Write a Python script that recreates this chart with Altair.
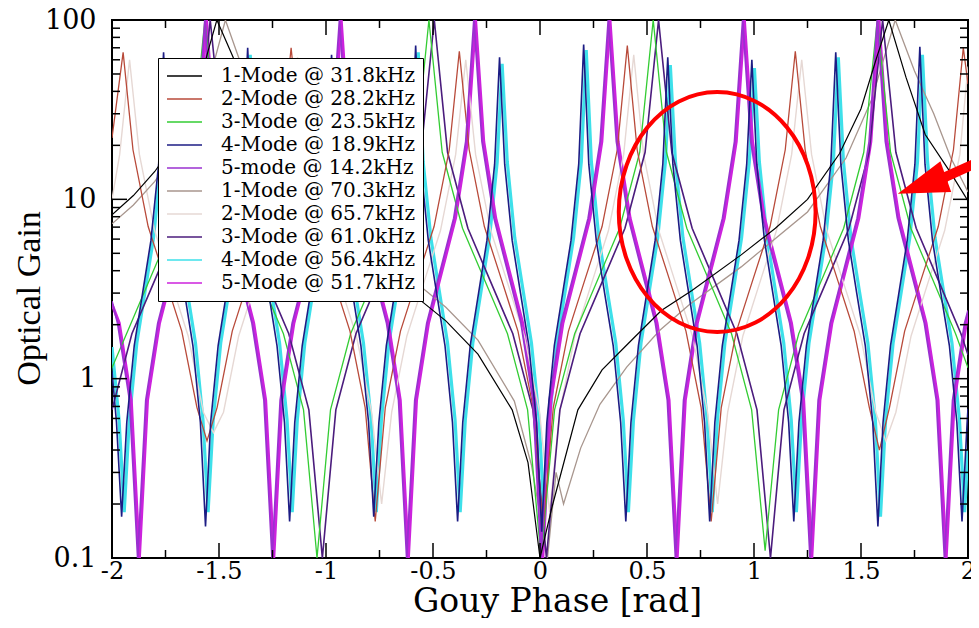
import altair as alt
import pandas as pd

# ---------------- legend labels / colours ----------------
labels = ["1-Mode @ 31.8kHz", "2-Mode @ 28.2kHz", "3-Mode @ 23.5kHz", "4-Mode @ 18.9kHz",
          "5-mode @ 14.2kHz", "1-Mode @ 70.3kHz", "2-Mode @ 65.7kHz", "3-Mode @ 61.0kHz",
          "4-Mode @ 56.4kHz", "5-Mode @ 51.7kHz"]
colors = ["#000000", "#b84a3a", "#33cc33", "#1c1c84", "#9a30d0",
          "#a8968e", "#e6d8d4", "#4b1c7d", "#3ee0ea", "#cc22dd"]

# ---------------- series: (Gouy phase, optical gain) ----------------
black = [(-2.0, 8.2), (-1.9, 10.5), (-1.8, 14.3), (-1.7, 21), (-1.6, 40), (-1.55, 68), (-1.51, 100),
         (-1.434, 62), (-1.35, 28), (-1.2, 13.5), (-1.0, 7.6), (-0.8, 4.7), (-0.6, 3.0), (-0.44, 2.1),
         (-0.29, 1.37), (-0.13, 0.67), (-0.056, 0.34), (0.0, 0.1), (0.055, 0.19), (0.177, 0.67),
         (0.29, 1.12), (0.41, 1.56), (0.567, 2.4), (0.71, 3.1), (0.94, 4.9), (1.1, 6.9), (1.25, 10),
         (1.4, 18), (1.5, 32), (1.57, 60), (1.63, 100), (1.71, 48), (1.8, 23), (1.92, 14), (2.0, 9.8)]

gray = [(-2.0, 7.3), (-1.9, 9.3), (-1.8, 12.6), (-1.7, 18.5), (-1.6, 32), (-1.52, 60), (-1.47, 100),
        (-1.40, 58), (-1.3, 28), (-1.15, 14), (-0.95, 7.8), (-0.75, 5.0), (-0.6, 3.6), (-0.44, 2.5),
        (-0.29, 1.64), (-0.12, 0.75), (-0.04, 0.33), (0.035, 0.1), (0.075, 0.3), (0.11, 0.2),
        (0.19, 0.41), (0.28, 0.72), (0.405, 1.16), (0.56, 1.86), (0.70, 2.6), (0.94, 4.2), (1.25, 8.5),
        (1.43, 17), (1.55, 36), (1.66, 100), (1.75, 52), (1.84, 30), (1.92, 17), (2.0, 11)]

red = [(-2.0, 22), (-1.948, 66), (-1.902, 18.9), (-1.831, 7.05), (-1.752, 3.6), (-1.674, 1.84), (-1.603, 0.69), (-1.556, 0.45),
       (-1.509, 0.69), (-1.438, 1.84), (-1.360, 3.6), (-1.281, 7.05), (-1.210, 18.9), (-1.163, 70),
       (-1.116, 18.9), (-1.045, 7.05), (-0.966, 3.6), (-0.888, 1.84), (-0.817, 0.69), (-0.770, 0.16),
       (-0.723, 0.69), (-0.652, 1.84), (-0.574, 3.6), (-0.495, 7.05), (-0.424, 18.9), (-0.377, 67),
       (-0.331, 18.9), (-0.260, 7.05), (-0.181, 3.6), (-0.103, 1.84), (-0.032, 0.69), (0.015, 0.15),
       (0.062, 0.69), (0.133, 1.84), (0.211, 3.6), (0.290, 7.05), (0.361, 18.9), (0.408, 72),
       (0.454, 18.9), (0.525, 7.05), (0.604, 3.6), (0.682, 1.84), (0.753, 0.69), (0.800, 0.16),
       (0.847, 0.69), (0.918, 1.84), (0.996, 3.6), (1.075, 7.05), (1.146, 18.9), (1.193, 67),
       (1.239, 18.9), (1.310, 7.05), (1.389, 3.6), (1.468, 1.84), (1.539, 0.69), (1.586, 0.4),
       (1.633, 0.69), (1.704, 1.84), (1.782, 3.6), (1.861, 7.05), (1.932, 18.9), (1.978, 70), (2.0, 44)]

pink = [(-2.0, 10), (-1.964, 17.8), (-1.918, 60), (-1.872, 17.8), (-1.801, 6.7), (-1.722, 3.4), (-1.644, 1.73), (-1.573, 0.65), (-1.526, 0.5),
        (-1.479, 0.65), (-1.408, 1.73), (-1.330, 3.4), (-1.251, 6.7), (-1.180, 17.8), (-1.133, 62),
        (-1.086, 17.8), (-1.015, 6.7), (-0.936, 3.4), (-0.858, 1.73), (-0.787, 0.65), (-0.740, 0.2),
        (-0.693, 0.65), (-0.622, 1.73), (-0.544, 3.4), (-0.465, 6.7), (-0.394, 17.8), (-0.347, 60),
        (-0.301, 17.8), (-0.230, 6.7), (-0.151, 3.4), (-0.073, 1.73), (-0.002, 0.65), (0.045, 0.18),
        (0.092, 0.65), (0.163, 1.73), (0.241, 3.4), (0.320, 6.7), (0.391, 17.8), (0.438, 64),
        (0.484, 17.8), (0.555, 6.7), (0.634, 3.4), (0.712, 1.73), (0.783, 0.65), (0.830, 0.2),
        (0.877, 0.65), (0.948, 1.73), (1.026, 3.4), (1.105, 6.7), (1.176, 17.8), (1.223, 60),
        (1.269, 17.8), (1.340, 6.7), (1.419, 3.4), (1.498, 1.73), (1.569, 0.65), (1.616, 0.45),
        (1.663, 0.65), (1.734, 1.73), (1.812, 3.4), (1.891, 6.7), (1.962, 17.8), (2.0, 55)]

green = [(-2.0, 1.15), (-1.932, 1.78), (-1.827, 3.5), (-1.722, 6.9), (-1.628, 18.3), (-1.566, 100),
         (-1.504, 18.3), (-1.409, 6.9), (-1.304, 3.5), (-1.199, 1.78), (-1.105, 0.67), (-1.042, 0.1),
         (-0.979, 0.67), (-0.885, 1.78), (-0.780, 3.5), (-0.675, 6.9), (-0.581, 18.3), (-0.519, 100),
         (-0.457, 18.3), (-0.362, 6.9), (-0.257, 3.5), (-0.152, 1.78), (-0.058, 0.67), (0.005, 0.1),
         (0.068, 0.67), (0.162, 1.78), (0.267, 3.5), (0.372, 6.9), (0.466, 18.3), (0.529, 100),
         (0.591, 18.3), (0.686, 6.9), (0.791, 3.5), (0.895, 1.78), (0.989, 0.67), (1.052, 0.11),
         (1.115, 0.67), (1.209, 1.78), (1.314, 3.5), (1.419, 6.9), (1.513, 18.3), (1.576, 100),
         (1.638, 18.3), (1.733, 6.9), (1.838, 3.5), (1.942, 1.78), (2.0, 1.15)]

indigo = [(-2.0, 0.67), (-1.907, 1.78), (-1.802, 3.5), (-1.697, 6.9), (-1.603, 18.3), (-1.541, 100),
          (-1.479, 18.3), (-1.384, 6.9), (-1.279, 3.5), (-1.174, 1.78), (-1.080, 0.67), (-1.017, 0.1),
          (-0.954, 0.67), (-0.860, 1.78), (-0.755, 3.5), (-0.650, 6.9), (-0.556, 18.3), (-0.494, 100),
          (-0.432, 18.3), (-0.337, 6.9), (-0.232, 3.5), (-0.127, 1.78), (-0.033, 0.67), (0.030, 0.1),
          (0.093, 0.67), (0.187, 1.78), (0.292, 3.5), (0.397, 6.9), (0.491, 18.3), (0.554, 100),
          (0.616, 18.3), (0.711, 6.9), (0.816, 3.5), (0.920, 1.78), (1.014, 0.67), (1.077, 0.1),
          (1.140, 0.67), (1.234, 1.78), (1.339, 3.5), (1.444, 6.9), (1.538, 18.3), (1.601, 100),
          (1.663, 18.3), (1.758, 6.9), (1.863, 3.5), (1.967, 1.78), (2.0, 1.36)]

blue = [(-2.0, 1.1), (-1.979, 0.57), (-1.955, 0.17),
        (-1.931, 0.57), (-1.896, 1.53), (-1.857, 3.0), (-1.818, 5.9), (-1.782, 15.7), (-1.759, 66),
        (-1.736, 15.7), (-1.700, 5.9), (-1.661, 3.0), (-1.622, 1.53), (-1.587, 0.57), (-1.563, 0.15),
        (-1.539, 0.57), (-1.504, 1.53), (-1.465, 3.0), (-1.426, 5.9), (-1.390, 15.7), (-1.366, 70),
        (-1.342, 15.7), (-1.307, 5.9), (-1.268, 3.0), (-1.229, 1.53), (-1.194, 0.57), (-1.170, 0.16),
        (-1.146, 0.57), (-1.111, 1.53), (-1.072, 3.0), (-1.033, 5.9), (-0.997, 15.7), (-0.974, 64),
        (-0.950, 15.7), (-0.915, 5.9), (-0.876, 3.0), (-0.837, 1.53), (-0.801, 0.57), (-0.777, 0.17),
        (-0.753, 0.57), (-0.718, 1.53), (-0.679, 3.0), (-0.640, 5.9), (-0.604, 15.7), (-0.581, 72),
        (-0.558, 15.7), (-0.522, 5.9), (-0.483, 3.0), (-0.444, 1.53), (-0.409, 0.57), (-0.385, 0.16),
        (-0.361, 0.57), (-0.326, 1.53), (-0.287, 3.0), (-0.248, 5.9), (-0.212, 15.7), (-0.189, 62),
        (-0.165, 15.7), (-0.130, 5.9), (-0.091, 3.0), (-0.052, 1.53), (-0.016, 0.57), (0.008, 0.14),
        (0.032, 0.57), (0.067, 1.53), (0.106, 3.0), (0.145, 5.9), (0.181, 15.7), (0.204, 73),
        (0.228, 15.7), (0.263, 5.9), (0.302, 3.0), (0.342, 1.53), (0.377, 0.57), (0.401, 0.16),
        (0.425, 0.57), (0.460, 1.53), (0.499, 3.0), (0.538, 5.9), (0.574, 15.7), (0.597, 62),
        (0.621, 15.7), (0.656, 5.9), (0.695, 3.0), (0.734, 1.53), (0.769, 0.57), (0.793, 0.16),
        (0.817, 0.57), (0.852, 1.53), (0.891, 3.0), (0.930, 5.9), (0.966, 15.7), (0.990, 60),
        (1.013, 15.7), (1.049, 5.9), (1.088, 3.0), (1.127, 1.53), (1.162, 0.57), (1.186, 0.16),
        (1.210, 0.57), (1.245, 1.53), (1.284, 3.0), (1.323, 5.9), (1.359, 15.7), (1.382, 66),
        (1.406, 15.7), (1.441, 5.9), (1.480, 3.0), (1.520, 1.53), (1.555, 0.57), (1.579, 0.15),
        (1.603, 0.57), (1.638, 1.53), (1.677, 3.0), (1.716, 5.9), (1.752, 15.7), (1.775, 71),
        (1.799, 15.7), (1.834, 5.9), (1.873, 3.0), (1.913, 1.53), (1.948, 0.57), (1.972, 0.16),
        (1.996, 0.57), (2.0, 0.68)]

cyan = [(-2.0, 1.5), (-1.967, 0.59), (-1.943, 0.18),
        (-1.919, 0.59), (-1.884, 1.58), (-1.845, 3.1), (-1.806, 6.1), (-1.770, 16.2), (-1.747, 60),
        (-1.724, 16.2), (-1.688, 6.1), (-1.649, 3.1), (-1.610, 1.58), (-1.575, 0.59), (-1.551, 0.18),
        (-1.527, 0.59), (-1.492, 1.58), (-1.453, 3.1), (-1.414, 6.1), (-1.378, 16.2), (-1.354, 64),
        (-1.330, 16.2), (-1.295, 6.1), (-1.256, 3.1), (-1.217, 1.58), (-1.182, 0.59), (-1.158, 0.18),
        (-1.134, 0.59), (-1.099, 1.58), (-1.060, 3.1), (-1.021, 6.1), (-0.985, 16.2), (-0.962, 58),
        (-0.938, 16.2), (-0.903, 6.1), (-0.864, 3.1), (-0.825, 1.58), (-0.789, 0.59), (-0.765, 0.18),
        (-0.741, 0.59), (-0.706, 1.58), (-0.667, 3.1), (-0.628, 6.1), (-0.592, 16.2), (-0.569, 66),
        (-0.546, 16.2), (-0.510, 6.1), (-0.471, 3.1), (-0.432, 1.58), (-0.397, 0.59), (-0.373, 0.18),
        (-0.349, 0.59), (-0.314, 1.58), (-0.275, 3.1), (-0.236, 6.1), (-0.200, 16.2), (-0.177, 57),
        (-0.153, 16.2), (-0.118, 6.1), (-0.079, 3.1), (-0.040, 1.58), (-0.004, 0.59), (0.020, 0.16),
        (0.044, 0.59), (0.079, 1.58), (0.118, 3.1), (0.157, 6.1), (0.193, 16.2), (0.216, 68),
        (0.240, 16.2), (0.275, 6.1), (0.314, 3.1), (0.354, 1.58), (0.389, 0.59), (0.413, 0.18),
        (0.437, 0.59), (0.472, 1.58), (0.511, 3.1), (0.550, 6.1), (0.586, 16.2), (0.609, 56),
        (0.633, 16.2), (0.668, 6.1), (0.707, 3.1), (0.746, 1.58), (0.781, 0.59), (0.805, 0.18),
        (0.829, 0.59), (0.864, 1.58), (0.903, 3.1), (0.942, 6.1), (0.978, 16.2), (1.002, 54),
        (1.025, 16.2), (1.061, 6.1), (1.100, 3.1), (1.139, 1.58), (1.174, 0.59), (1.198, 0.18),
        (1.222, 0.59), (1.257, 1.58), (1.296, 3.1), (1.335, 6.1), (1.371, 16.2), (1.394, 62),
        (1.418, 16.2), (1.453, 6.1), (1.492, 3.1), (1.532, 1.58), (1.567, 0.59), (1.591, 0.17),
        (1.615, 0.59), (1.650, 1.58), (1.689, 3.1), (1.728, 6.1), (1.764, 16.2), (1.787, 64),
        (1.811, 16.2), (1.846, 6.1), (1.885, 3.1), (1.925, 1.58), (1.960, 0.59), (1.984, 0.18),
        (2.0, 0.4)]

purple = [(-2.0, 2.7), (-1.974, 2.04), (-1.918, 0.76), (-1.880, 0.1),
          (-1.842, 0.76), (-1.786, 2.04), (-1.723, 4), (-1.660, 7.85), (-1.604, 21), (-1.566, 100),
          (-1.528, 21), (-1.472, 7.85), (-1.409, 4), (-1.346, 2.04), (-1.290, 0.76), (-1.252, 0.1),
          (-1.214, 0.76), (-1.158, 2.04), (-1.095, 4), (-1.032, 7.85), (-0.976, 21), (-0.937, 100),
          (-0.899, 21), (-0.843, 7.85), (-0.780, 4), (-0.717, 2.04), (-0.661, 0.76), (-0.623, 0.1),
          (-0.585, 0.76), (-0.529, 2.04), (-0.466, 4), (-0.403, 7.85), (-0.347, 21), (-0.309, 100),
          (-0.271, 21), (-0.215, 7.85), (-0.152, 4), (-0.089, 2.04), (-0.033, 0.76), (0.005, 0.1),
          (0.043, 0.76), (0.099, 2.04), (0.162, 4), (0.225, 7.85), (0.281, 21), (0.319, 100),
          (0.357, 21), (0.413, 7.85), (0.476, 4), (0.539, 2.04), (0.595, 0.76), (0.633, 0.1),
          (0.671, 0.76), (0.727, 2.04), (0.790, 4), (0.853, 7.85), (0.909, 21), (0.947, 100),
          (0.985, 21), (1.041, 7.85), (1.104, 4), (1.167, 2.04), (1.224, 0.76), (1.262, 0.1),
          (1.300, 0.76), (1.356, 2.04), (1.419, 4), (1.482, 7.85), (1.538, 21), (1.576, 100),
          (1.614, 21), (1.670, 7.85), (1.733, 4), (1.796, 2.04), (1.852, 0.76), (1.890, 0.1),
          (1.928, 0.76), (1.984, 2.04), (2.0, 2.4)]

magenta = [(-2.0, 2.6), (-1.966, 2.04), (-1.910, 0.76), (-1.872, 0.1),
           (-1.834, 0.76), (-1.778, 2.04), (-1.715, 4), (-1.652, 7.85), (-1.596, 21), (-1.558, 100),
           (-1.520, 21), (-1.464, 7.85), (-1.401, 4), (-1.338, 2.04), (-1.282, 0.76), (-1.244, 0.1),
           (-1.206, 0.76), (-1.150, 2.04), (-1.087, 4), (-1.024, 7.85), (-0.968, 21), (-0.929, 100),
           (-0.891, 21), (-0.835, 7.85), (-0.772, 4), (-0.709, 2.04), (-0.653, 0.76), (-0.615, 0.1),
           (-0.577, 0.76), (-0.521, 2.04), (-0.458, 4), (-0.395, 7.85), (-0.339, 21), (-0.301, 100),
           (-0.263, 21), (-0.207, 7.85), (-0.144, 4), (-0.081, 2.04), (-0.025, 0.76), (0.013, 0.1),
           (0.051, 0.76), (0.107, 2.04), (0.170, 4), (0.233, 7.85), (0.289, 21), (0.327, 100),
           (0.365, 21), (0.421, 7.85), (0.484, 4), (0.547, 2.04), (0.603, 0.76), (0.641, 0.1),
           (0.679, 0.76), (0.735, 2.04), (0.798, 4), (0.861, 7.85), (0.917, 21), (0.955, 100),
           (0.993, 21), (1.049, 7.85), (1.112, 4), (1.175, 2.04), (1.232, 0.76), (1.270, 0.1),
           (1.308, 0.76), (1.364, 2.04), (1.427, 4), (1.490, 7.85), (1.546, 21), (1.584, 100),
           (1.622, 21), (1.678, 7.85), (1.741, 4), (1.804, 2.04), (1.860, 0.76), (1.898, 0.1),
           (1.936, 0.76), (1.992, 2.04), (2.0, 2.3)]

series_points = {
    "1-Mode @ 31.8kHz": black, "2-Mode @ 28.2kHz": red, "3-Mode @ 23.5kHz": green,
    "4-Mode @ 18.9kHz": blue, "5-mode @ 14.2kHz": purple, "1-Mode @ 70.3kHz": gray,
    "2-Mode @ 65.7kHz": pink, "3-Mode @ 61.0kHz": indigo, "4-Mode @ 56.4kHz": cyan,
    "5-Mode @ 51.7kHz": magenta,
}

# axis tick values
x_major = [-2, -1.5, -1, -0.5, 0, 0.5, 1, 1.5, 2]
x_minor = [-1.75, -1.25, -0.75, -0.25, 0.25, 0.75, 1.25, 1.75]
y_major = [0.1, 1, 10, 100]
y_minor = [0.2, 0.3, 0.4, 0.5, 0.6, 0.7, 0.8, 0.9, 2, 3, 4, 5, 6, 7, 8, 9,
           20, 30, 40, 50, 60, 70, 80, 90]

# annotations (data coordinates)
ellipse_center = [(0.828, 8.5)]
arrow_head = [(1.784, 12.0)]
arrow_shaft = [(1.886, 13.2, 2.10, 17.2)]

# ---------------- build chart ----------------
W, H = 856, 538
rows = []
for name, pts in series_points.items():
    for px, gy in pts:
        rows.append({"phi": px, "gain": gy, "series": name})
df = pd.DataFrame(rows)

xs = alt.Scale(domain=[-2, 2], nice=False, zero=False)
ys = alt.Scale(type="log", domain=[0.1, 100], nice=False)
xaxis = alt.Axis(values=x_major, labelExpr="'' + datum.value", title="Gouy Phase [rad]",
                 ticks=False, domain=False, grid=False, labelFont="DejaVu Serif", labelFontSize=24,
                 labelColor="black", labelPadding=1, labelFlush=False, labelOverlap=False,
                 titleFont="DejaVu Serif", titleFontSize=33, titleFontWeight="normal",
                 titleColor="black", titleX=445, titleY=53, titleBaseline="alphabetic")
yaxis = alt.Axis(values=y_major, labelExpr="'' + datum.value", title="Optical Gain",
                 ticks=False, domain=False, grid=False, labelFont="DejaVu Serif", labelFontSize=27,
                 labelColor="black", labelPadding=16, labelFlush=False, labelOverlap=False,
                 titleFont="Liberation Serif", titleFontSize=34, titleFontWeight="normal",
                 titleColor="black", titleAngle=270, titleX=-83, titleY=278,
                 titleAlign="center", titleBaseline="middle")
X = alt.X("phi:Q", scale=xs, axis=xaxis)
Y = alt.Y("gain:Q", scale=ys, axis=yaxis)

legend = alt.Legend(title=None, orient="none", legendX=46, legendY=38, fillColor="white",
                    strokeColor="black", padding=8, symbolType="stroke", symbolSize=1225,
                    symbolStrokeWidth=1.5, labelFont="DejaVu Serif", labelFontSize=20,
                    labelColor="black", rowPadding=3, labelOffset=18, clipHeight=20,
                    labelLimit=400)
color = alt.Color("series:N", scale=alt.Scale(domain=labels, range=colors), legend=legend)

draw_order = [("4-Mode @ 56.4kHz", 3.2), ("5-Mode @ 51.7kHz", 3.0), ("2-Mode @ 65.7kHz", 1.4),
              ("1-Mode @ 70.3kHz", 1.3), ("3-Mode @ 61.0kHz", 1.6), ("3-Mode @ 23.5kHz", 1.3),
              ("2-Mode @ 28.2kHz", 1.3), ("5-mode @ 14.2kHz", 1.8), ("4-Mode @ 18.9kHz", 1.6),
              ("1-Mode @ 31.8kHz", 1.2)]

base = alt.Chart(df)
layers = []
for name, w in draw_order:
    layers.append(base.transform_filter(alt.datum.series == name)
                  .mark_line(strokeWidth=w, clip=True)
                  .encode(x=X, y=Y, color=color))

# inward ticks
xt_major = alt.Chart(pd.DataFrame({"phi": x_major}))
xt_minor = alt.Chart(pd.DataFrame({"phi": x_minor}))
yt_major = alt.Chart(pd.DataFrame({"gain": y_major}))
yt_minor = alt.Chart(pd.DataFrame({"gain": y_minor}))
tk = dict(color="black", strokeWidth=1.5)
layers += [
    xt_major.mark_rule(**tk).encode(x=X, y=alt.value(H), y2=alt.value(H - 15)),
    xt_major.mark_rule(**tk).encode(x=X, y=alt.value(0), y2=alt.value(15)),
    xt_minor.mark_rule(**tk).encode(x=X, y=alt.value(H), y2=alt.value(H - 8)),
    xt_minor.mark_rule(**tk).encode(x=X, y=alt.value(0), y2=alt.value(8)),
    yt_major.mark_rule(**tk).encode(y=Y, x=alt.value(0), x2=alt.value(15)),
    yt_major.mark_rule(**tk).encode(y=Y, x=alt.value(W), x2=alt.value(W - 15)),
    yt_minor.mark_rule(**tk).encode(y=Y, x=alt.value(0), x2=alt.value(8)),
    yt_minor.mark_rule(**tk).encode(y=Y, x=alt.value(W), x2=alt.value(W - 8)),
]

# red annotation: ellipse and arrow
ELLIPSE = "M -0.82 0 A 0.82 1 0 1 1 0.82 0 A 0.82 1 0 1 1 -0.82 0 Z"
TRI = "M -1 0 L 1 -0.635 L 1 0.635 Z"
ell_df = pd.DataFrame(ellipse_center, columns=["phi", "gain"])
head_df = pd.DataFrame(arrow_head, columns=["phi", "gain"])
shaft_df = pd.DataFrame(arrow_shaft, columns=["phi", "gain", "phi2", "gain2"])
layers += [
    alt.Chart(ell_df).mark_point(shape=ELLIPSE, size=57600, filled=False, color="#ff0000",
                                 strokeWidth=4, opacity=1).encode(x=X, y=Y),
    alt.Chart(shaft_df).mark_rule(color="#ff0000", strokeWidth=10).encode(
        x=X, y=Y, x2="phi2:Q", y2="gain2:Q"),
    alt.Chart(head_df).mark_point(shape=TRI, size=2601, filled=True, color="#ff0000",
                                  opacity=1, angle=340.5).encode(x=X, y=Y),
]

chart = alt.layer(*layers).properties(
    width=W, height=H,
    autosize=alt.AutoSizeParams(type="none"),
    padding={"left": 104, "top": 12, "right": 3, "bottom": 60},
    background="white",
).configure_view(stroke="black", strokeWidth=2)

chart.save("out.html", embed_options={"renderer": "svg", "actions": False})
